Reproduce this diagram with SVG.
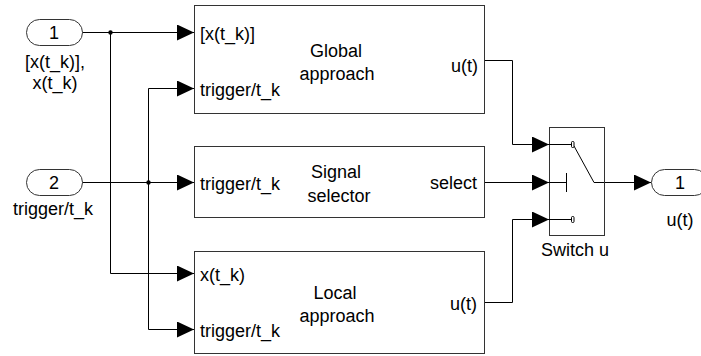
<svg xmlns="http://www.w3.org/2000/svg" width="701" height="356" viewBox="0 0 701 356">
<style>
text{font-family:"Liberation Sans",Arial,sans-serif;font-size:18px;fill:#000}
.blk{fill:#fff;stroke:#333;stroke-width:1}
.ln{fill:none;stroke:#000;stroke-width:1}
.mid{text-anchor:middle}
.end{text-anchor:end}
</style>
<defs>
<marker id="ar" markerUnits="userSpaceOnUse" markerWidth="17" markerHeight="16" refX="17" refY="8" orient="auto">
<path d="M0,0 L17,8 L0,16 Z" fill="#000"/>
</marker>
</defs>
<rect width="701" height="356" fill="#fff"/>
<g id="connectors">
<path class="ln" d="M82,32.5 H194" marker-end="url(#ar)"/>
<path class="ln" d="M110.5,32.5 V273.5 H194" marker-end="url(#ar)"/>
<path class="ln" d="M82,182.5 H194" marker-end="url(#ar)"/>
<path class="ln" d="M148.5,182.5 V88.5 H194" marker-end="url(#ar)"/>
<path class="ln" d="M148.5,182.5 V329.5 H194" marker-end="url(#ar)"/>
<circle cx="110.5" cy="32.5" r="2.2" fill="#000"/>
<circle cx="148.5" cy="182.5" r="2.2" fill="#000"/>
<path class="ln" d="M484,60.5 H512.5 V144.5 H549" marker-end="url(#ar)"/>
<path class="ln" d="M484,182.5 H549" marker-end="url(#ar)"/>
<path class="ln" d="M484,302.5 H512.5 V219.5 H549" marker-end="url(#ar)"/>
<path class="ln" d="M604,182.5 H651" marker-end="url(#ar)"/>
</g>
<g id="in1">
<rect x="26.5" y="19.5" width="56" height="26" rx="13" ry="13" class="blk"/>
<text x="54" y="39" class="mid">1</text>
<text x="55" y="68" class="mid">[x(t_k)],</text>
<text x="55" y="89" class="mid">x(t_k)</text>
</g>
<g id="in2">
<rect x="26.5" y="169.5" width="56" height="26" rx="13" ry="13" class="blk"/>
<text x="54" y="189" class="mid">2</text>
<text x="53" y="215" class="mid">trigger/t_k</text>
</g>
<g id="global">
<rect x="194.5" y="5.5" width="290" height="108" class="blk"/>
<text x="200" y="40">[x(t_k)]</text>
<text x="200" y="96">trigger/t_k</text>
<text x="336" y="57" class="mid">Global</text>
<text x="337" y="80" class="mid">approach</text>
<text x="478" y="72" class="end">u(t)</text>
</g>
<g id="selector">
<rect x="194.5" y="146.5" width="290" height="71" class="blk"/>
<text x="200" y="190">trigger/t_k</text>
<text x="336" y="178" class="mid">Signal</text>
<text x="339" y="202" class="mid">selector</text>
<text x="477" y="189" class="end">select</text>
</g>
<g id="local">
<rect x="194.5" y="251.5" width="290" height="102" class="blk"/>
<text x="200" y="281">x(t_k)</text>
<text x="200" y="337">trigger/t_k</text>
<text x="335" y="299" class="mid">Local</text>
<text x="337" y="322" class="mid">approach</text>
<text x="477" y="310" class="end">u(t)</text>
</g>
<g id="switch">
<rect x="549.5" y="127.5" width="55" height="108" class="blk"/>
<path class="ln" d="M549,144.5 H571 M574,146 L594,182.5 H604 M549,182.5 H566 M566.5,173 V192 M549,219.5 H571"/>
<rect x="571.5" y="141.5" width="2.5" height="6" rx="1" fill="#fff" stroke="#000" stroke-width="1"/>
<rect x="571.5" y="216.5" width="2.5" height="6" rx="1" fill="#fff" stroke="#000" stroke-width="1"/>
<text x="575" y="256" class="mid">Switch u</text>
</g>
<g id="out1">
<rect x="651.5" y="169.5" width="56" height="26" rx="13" ry="13" class="blk"/>
<text x="680" y="189" class="mid">1</text>
<text x="680" y="226" class="mid">u(t)</text>
</g>
</svg>
